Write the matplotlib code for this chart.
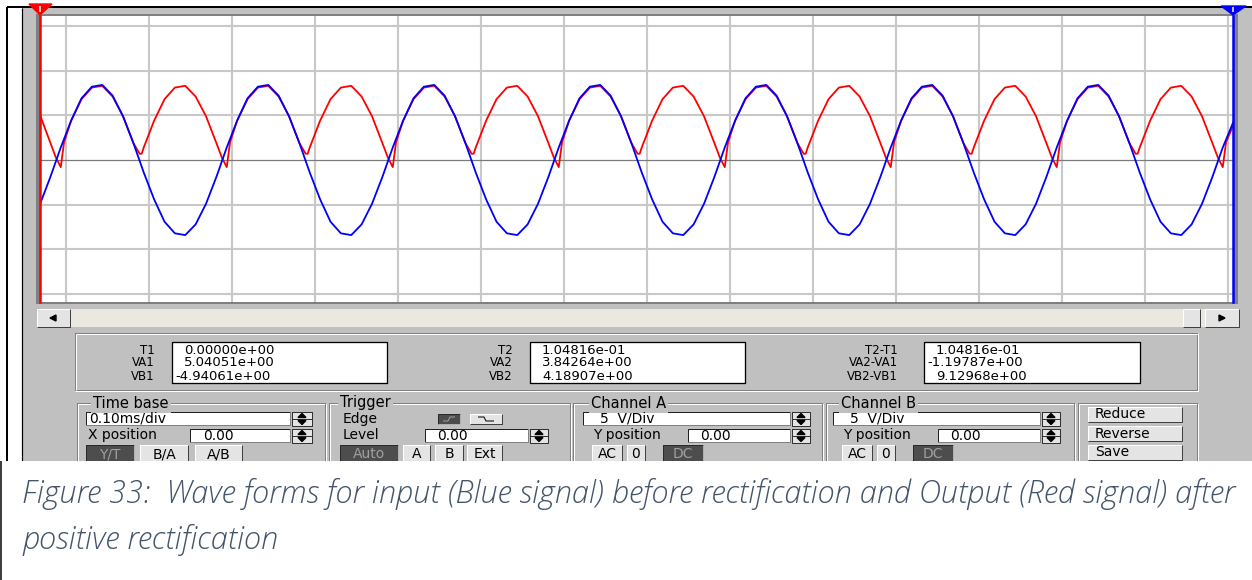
import numpy as np
import matplotlib.pyplot as plt
from matplotlib.patches import Rectangle, Polygon

W, H = 1252, 580
PANEL = '#c0c0c0'
DARK = '#808080'
FACE = '#e4e4e4'
DOWN = '#4d4d4d'
CAPTION = '#44546a'
UI = 'DejaVu Sans'

# scope samples every 12.5 us (time base 0.1 ms/div)
dt = 0.0125

# channel B, input before rectification (V); one 0.2 ms period per row
vb = [
    -4.94, -1.9, 1.4, 4.4, 6.9, 8.2, 8.4, 7.2, 4.9, 1.9, -1.4, -4.4, -6.9, -8.2, -8.4, -7.2,
    -4.9, -1.9, 1.4, 4.4, 6.9, 8.2, 8.4, 7.2, 4.9, 1.9, -1.4, -4.4, -6.9, -8.2, -8.4, -7.2,
    -4.9, -1.9, 1.4, 4.4, 6.9, 8.2, 8.4, 7.2, 4.9, 1.9, -1.4, -4.4, -6.9, -8.2, -8.4, -7.2,
    -4.9, -1.9, 1.4, 4.4, 6.9, 8.2, 8.4, 7.2, 4.9, 1.9, -1.4, -4.4, -6.9, -8.2, -8.4, -7.2,
    -4.9, -1.9, 1.4, 4.4, 6.9, 8.2, 8.4, 7.2, 4.9, 1.9, -1.4, -4.4, -6.9, -8.2, -8.4, -7.2,
    -4.9, -1.9, 1.4, 4.4, 6.9, 8.2, 8.4, 7.2, 4.9, 1.9, -1.4, -4.4, -6.9, -8.2, -8.4, -7.2,
    -4.9, -1.9, 1.4, 4.4, 6.9, 8.2, 8.4, 7.2, 4.9, 1.9, -1.4, -4.4, -6.9, -8.2, -8.4, -7.2,
    -4.9, -1.9, 1.4, 4.19,
]

# channel A, rectified output (V) on the same sample grid
va = [
    5.04, 1.9, -0.8, 4.4, 6.8, 8.1, 8.3, 7.1, 4.9, 1.9, 1.4, 4.4, 6.8, 8.1, 8.3, 7.1,
    4.9, 1.9, -0.8, 4.4, 6.8, 8.1, 8.3, 7.1, 4.9, 1.9, 1.4, 4.4, 6.8, 8.1, 8.3, 7.1,
    4.9, 1.9, -0.8, 4.4, 6.8, 8.1, 8.3, 7.1, 4.9, 1.9, 1.4, 4.4, 6.8, 8.1, 8.3, 7.1,
    4.9, 1.9, -0.8, 4.4, 6.8, 8.1, 8.3, 7.1, 4.9, 1.9, 1.4, 4.4, 6.8, 8.1, 8.3, 7.1,
    4.9, 1.9, -0.8, 4.4, 6.8, 8.1, 8.3, 7.1, 4.9, 1.9, 1.4, 4.4, 6.8, 8.1, 8.3, 7.1,
    4.9, 1.9, -0.8, 4.4, 6.8, 8.1, 8.3, 7.1, 4.9, 1.9, 1.4, 4.4, 6.8, 8.1, 8.3, 7.1,
    4.9, 1.9, -0.8, 4.4, 6.8, 8.1, 8.3, 7.1, 4.9, 1.9, 1.4, 4.4, 6.8, 8.1, 8.3, 7.1,
    4.9, 1.9, -0.8, 3.84,
]

# extra output points where the diodes switch over (ms, V)
va_notch_t = [0.019, 0.029, 0.120, 0.1225, 0.219, 0.229, 0.320, 0.3225,
              0.419, 0.429, 0.520, 0.5225, 0.619, 0.629, 0.720, 0.7225,
              0.819, 0.829, 0.920, 0.9225, 1.019, 1.029, 1.120, 1.1225,
              1.219, 1.229, 1.320, 1.3225, 1.419, 1.429]
va_notch_v = [0.3, 2.0, 0.7, 0.7, 0.3, 2.0, 0.7, 0.7,
              0.3, 2.0, 0.7, 0.7, 0.3, 2.0, 0.7, 0.7,
              0.3, 2.0, 0.7, 0.7, 0.3, 2.0, 0.7, 0.7,
              0.3, 2.0, 0.7, 0.7, 0.3, 2.0]

# cursor readouts
read_labels = [['T1', 'VA1', 'VB1'],
               ['T2', 'VA2', 'VB2'],
               ['T2-T1', 'VA2-VA1', 'VB2-VB1']]
read_values = [['0.00000e+00', '5.04051e+00', '-4.94061e+00'],
               ['1.04816e-01', '3.84264e+00', '4.18907e+00'],
               ['1.04816e-01', '-1.19787e+00', '9.12968e+00']]

caption1 = 'Figure 33:  Wave forms for input (Blue signal) before rectification and Output (Red signal) after'
caption2 = 'positive rectification'

fig = plt.figure(figsize=(W / 100, H / 100), dpi=100)
bg = fig.add_axes([0, 0, 1, 1])
bg.set_xlim(0, W)
bg.set_ylim(H, 0)
bg.axis('off')


def box(x0, y0, x1, y1, fc, ec='none', lw=0, z=2):
    bg.add_patch(Rectangle((x0, y0), x1 - x0, y1 - y0, facecolor=fc,
                           edgecolor=ec, linewidth=lw * 0.72, zorder=z))


def seg(xs, ys, c, lw=1, z=3):
    bg.plot(xs, ys, color=c, lw=lw * 0.72, solid_capstyle='butt', zorder=z)


def label(x, y, s, ha='left', c='black', size=10.5):
    bg.text(x, y, s, ha=ha, va='center', color=c, fontsize=size,
            family=UI, zorder=6)


def button(x0, y0, x1, y1, s, down=False):
    box(x0, y0, x1, y1, DOWN if down else FACE, z=3)
    if down:
        seg([x0, x0, x1], [y1, y0, y0], '#2a2a2a', z=4)
        seg([x0, x1, x1], [y1, y1, y0], '#b0b0b0', z=4)
    else:
        seg([x0, x0, x1], [y1, y0, y0], 'white', z=4)
        seg([x0, x1, x1], [y1, y1, y0], '#404040', z=4)
    if s:
        label((x0 + x1) / 2, (y0 + y1) / 2 + 0.5, s, ha='center',
              c='#a0a0a0' if down else 'black', size=10)


def field(x0, y0, x1, y1, s, tx):
    box(x0, y0, x1, y1, 'white', z=3)
    seg([x0, x0, x1], [y1, y0, y0], '#202020', z=4)
    seg([x0, x1, x1], [y1, y1, y0], DARK, z=4)
    label(tx, (y0 + y1) / 2 + 0.5, s, size=10)


def spinner(x0, y0, x1, y1):
    box(x0, y0, x1, y1, FACE, z=3)
    seg([x0, x1, x1, x0, x0], [y0, y0, y1, y1, y0], '#303030', z=4)
    ym = (y0 + y1) / 2
    seg([x0, x1], [ym, ym], '#303030', z=4)
    xc = (x0 + x1) / 2
    bg.add_patch(Polygon([(xc - 4, ym - 1.5), (xc + 4, ym - 1.5), (xc, y0 + 1.5)],
                         color='black', zorder=5))
    bg.add_patch(Polygon([(xc - 4, ym + 1.5), (xc + 4, ym + 1.5), (xc, y1 - 1.5)],
                         color='black', zorder=5))


def group(x0, y0, x1, y1, title=None, tx=None):
    seg([x0, x1, x1, x0, x0], [y0, y0, y1, y1, y0], DARK, z=2.5)
    seg([x0 + 1, x1 + 1, x1 + 1, x0 + 1, x0 + 1],
        [y0 + 1, y0 + 1, y1 + 1, y1 + 1, y0 + 1], 'white', z=2.4)
    if title:
        bg.text(tx, y0, title, ha='left', va='center', fontsize=10.5, family=UI,
                zorder=6, bbox=dict(fc=PANEL, ec='none', pad=1.5))


# instrument panel and outer frame
box(22, 8, W + 2, 461, PANEL, z=1)
seg([22, 22], [8, 461], 'black', lw=1.2)
seg([7, W + 2], [7, 7], 'black', lw=2)
seg([7, 7], [7, 461], 'black', lw=2)

# screen bezel
box(36, 14, 1238, 304, DARK, z=1.5)

# scroll bar
box(37, 309, 1239, 327, '#ebe8e1', z=2)
button(37, 309, 70, 327, '')
button(1183, 309, 1200, 327, '')
button(1205, 309, 1239, 327, '')
bg.add_patch(Polygon([(50, 318), (56, 315), (56, 321)], color='black', zorder=5))
bg.add_patch(Polygon([(1225, 318), (1219, 315), (1219, 321)], color='black', zorder=5))

# readout section
seg([75, 1197, 1197, 75, 75], [333, 333, 390, 390, 333], DARK)
seg([76, 1198], [334, 334], 'white')
seg([76, 76], [334, 390], 'white')
seg([75, 1198], [391, 391], 'white')
seg([1198, 1198], [333, 391], 'white')

label_x = [155, 513, 898]
box_x = [(172, 387), (530, 745), (924, 1140)]
rows_y = [350, 363, 376]
for labs, vals, lx, (bx0, bx1) in zip(read_labels, read_values, label_x, box_x):
    box(bx0, 342, bx1, 383, 'white', z=3)
    seg([bx0, bx1, bx1, bx0, bx0], [342, 342, 383, 383, 342], 'black', lw=1.3, z=4)
    for s, v, y in zip(labs, vals, rows_y):
        label(lx, y, s, ha='right', size=8.5)
        label(bx0 + (3 if v.startswith('-') else 12), y, v, size=9.5)

# control groups
group(77, 403, 325, 480, 'Time base', 93)
group(329, 403, 570, 480, 'Trigger', 340)
group(573, 403, 822, 480, 'Channel A', 591)
group(826, 403, 1074, 480, 'Channel B', 841)
group(1078, 403, 1197, 480)

# time base
field(86, 412, 290, 425, '0.10ms/div', 89)
spinner(292, 412, 312, 426)
label(88, 435, 'X position', size=10)
field(190, 429, 290, 442, '0.00', 203)
spinner(292, 429, 312, 443)
button(86, 445, 134, 462, 'Y/T', down=True)
button(140, 445, 188, 462, 'B/A')
button(195, 445, 242, 462, 'A/B')

# trigger
label(343, 419, 'Edge', size=10)
label(343, 435, 'Level', size=10)
button(438, 414, 460, 424, '', down=True)
button(470, 414, 502, 424, '')
seg([443, 448, 450, 455], [421, 421, 417, 417], '#a0a0a0', lw=1, z=5)
seg([478, 484, 486, 494], [417, 417, 421, 421], 'black', lw=1, z=5)
field(425, 429, 528, 442, '0.00', 437)
spinner(530, 429, 548, 443)
button(340, 445, 398, 462, 'Auto', down=True)
button(403, 445, 430, 462, 'A')
button(435, 445, 463, 462, 'B')
button(467, 445, 502, 462, 'Ext')

# channel A and channel B
for gx, sx in [(583, 600), (833, 850)]:
    field(gx, 412, gx + 207, 425, '5  V/Div', sx)
    spinner(gx + 209, 412, gx + 227, 426)
    label(gx + 10, 435, 'Y position', size=10)
    field(gx + 105, 429, gx + 207, 442, '0.00', gx + 117)
    spinner(gx + 209, 429, gx + 227, 443)
    button(gx + 9, 445, gx + 39, 462, 'AC')
    button(gx + 44, 445, gx + 62, 462, '0')
    button(gx + 80, 445, gx + 120, 462, 'DC', down=True)

# display buttons
for y0, s in [(407, 'Reduce'), (426, 'Reverse'), (445, 'Save')]:
    button(1088, y0, 1182, y0 + 15, '')
    label(1095, y0 + 7.5, s, size=10)

# cursor flags
bg.add_patch(Polygon([(29, 4), (52, 4), (40, 15)], color='#ff0000', zorder=8))
seg([40, 40], [6, 12], 'white', lw=1.5, z=9)
bg.add_patch(Polygon([(1221, 6), (1246, 6), (1233, 15)], color='#0000ff', zorder=8))
seg([1233, 1233], [7, 12], 'white', lw=1.5, z=9)

# caption below the screenshot
box(0, 461, W, H, 'white', z=10)
seg([1, 1], [461, H], 'black', lw=1.5, z=11)
cap = bg.text(22, 494, caption1, ha='left', va='center', color=CAPTION,
              fontsize=20, family='Open Sans', style='italic', weight='light', zorder=11)
fig.canvas.draw()
cw = cap.get_window_extent().width
cap.set_fontsize(20 * 1215 / cw)
bg.text(22, 540, caption2, ha='left', va='center', color=CAPTION,
        fontsize=20 * 1215 / cw, family='Open Sans', style='italic', weight='light', zorder=11)

# oscilloscope screen, 5 V/div on both channels
t_end = (1233 - 40) / 830
v_lo = -(302 - 160) / 44.7 * 5
v_hi = (160 - 16) / 44.7 * 5
scr = fig.add_axes([40 / W, 1 - 302 / H, (1233 - 40) / W, (302 - 16) / H])
scr.set_zorder(1)
scr.set_xlim(0, t_end)
scr.set_ylim(v_lo, v_hi)
scr.set_xticks(np.arange(0.0313, t_end, 0.1))
scr.set_yticks([-15, -10, -5, 5, 10, 15])
scr.tick_params(length=0, labelbottom=False, labelleft=False)
scr.grid(True, color='#c8c8c8', lw=1.5)
for sp in scr.spines.values():
    sp.set_visible(False)
scr.axhline(0, color='#7a7a7a', lw=0.9)

tb = np.arange(len(vb)) * dt
ta = np.concatenate([np.arange(len(va)) * dt, va_notch_t])
order = np.argsort(ta, kind='stable')
va_all = np.concatenate([va, va_notch_v])
scr.plot(ta[order], va_all[order], color='#ff0000', lw=1.3)
scr.plot(tb, vb, color='#0000ff', lw=1.3)

# cursors T1 and T2
scr.axvline(0, color='#ff0000', lw=1.8, clip_on=False)
scr.axvline(t_end, color='#0000ff', lw=1.8, clip_on=False)

fig.savefig('out.png', dpi=100)
